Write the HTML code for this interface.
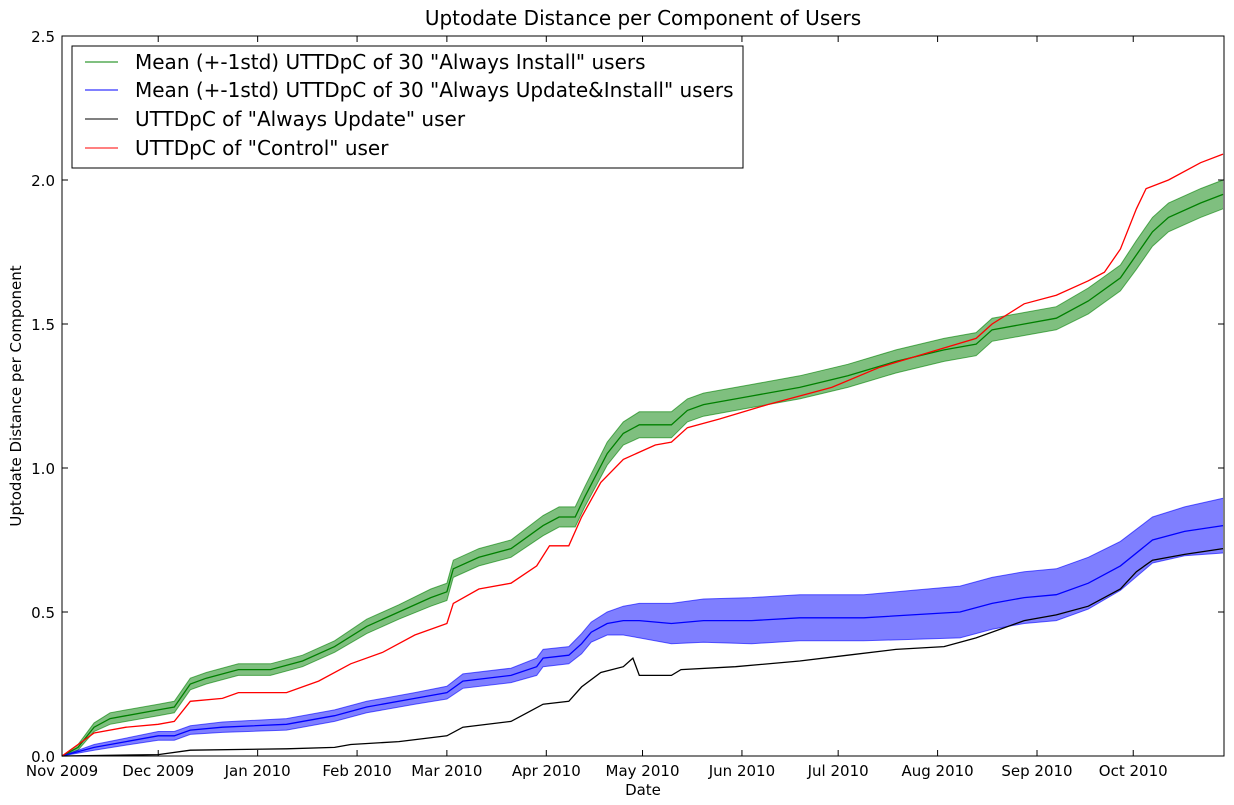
<!DOCTYPE html>
<html><head><meta charset="utf-8"><style>
body{margin:0;background:#fff;}
svg{display:block;font-family:"DejaVu Sans","Liberation Sans",sans-serif;}
</style></head><body>
<svg id="chart" width="1234" height="805">
<text x="643" y="25" text-anchor="middle" font-size="20">Uptodate Distance per Component of Users</text>
<text x="643" y="795" text-anchor="middle" font-size="15">Date</text>
<text transform="translate(21,396) rotate(-90)" text-anchor="middle" font-size="15">Uptodate Distance per Component</text>
<g id="plot"></g>
<rect x="62" y="36" width="1162" height="720" fill="none" stroke="#000" stroke-width="1"/>
<g id="axes"></g>
<g>
<rect x="72" y="46" width="671" height="122" fill="#fff" stroke="#000"/>
<line x1="85" x2="118" y1="62" y2="62" stroke="green"/>
<text x="135" y="69" font-size="20">Mean (+-1std) UTTDpC of 30 "Always Install" users</text>
<line x1="85" x2="118" y1="90" y2="90" stroke="blue"/>
<text x="135" y="97" font-size="20">Mean (+-1std) UTTDpC of 30 "Always Update&amp;Install" users</text>
<line x1="85" x2="118" y1="119" y2="119" stroke="black"/>
<text x="135" y="126" font-size="20">UTTDpC of "Always Update" user</text>
<line x1="85" x2="118" y1="148" y2="148" stroke="red"/>
<text x="135" y="155" font-size="20">UTTDpC of "Control" user</text>
</g>
</svg>
<script>
const greenDays=[0,5,10,15,20,30,35,40,45,55,65,75,85,95,105,115,120,122,130,140,150,155,160,163,170,175,180,190,195,200,215,230,245,260,275,285,290,300,310,320,330,335,340,345,355,362];
const greenMean=[0,0.03,0.1,0.13,0.14,0.16,0.17,0.25,0.27,0.3,0.3,0.33,0.38,0.45,0.5,0.55,0.57,0.65,0.69,0.72,0.8,0.83,0.83,0.9,1.05,1.12,1.15,1.15,1.2,1.22,1.25,1.28,1.32,1.37,1.41,1.43,1.48,1.5,1.52,1.58,1.66,1.74,1.82,1.87,1.92,1.95];
const greenStd=[0,0.01,0.015,0.02,0.02,0.02,0.02,0.02,0.02,0.02,0.02,0.02,0.02,0.025,0.025,0.03,0.03,0.03,0.03,0.03,0.035,0.035,0.035,0.035,0.04,0.04,0.045,0.045,0.04,0.04,0.04,0.04,0.04,0.04,0.04,0.04,0.04,0.04,0.04,0.045,0.045,0.05,0.05,0.05,0.05,0.05];
const blueDays=[0,10,20,30,35,40,50,70,85,95,110,120,125,140,148,150,158,162,165,170,175,180,190,200,215,230,250,265,280,290,300,310,320,330,340,350,362];
const blueMean=[0,0.03,0.05,0.07,0.07,0.09,0.1,0.11,0.14,0.17,0.2,0.22,0.26,0.28,0.31,0.34,0.35,0.39,0.43,0.46,0.47,0.47,0.46,0.47,0.47,0.48,0.48,0.49,0.5,0.53,0.55,0.56,0.6,0.66,0.75,0.78,0.8];
const blueStd=[0,0.01,0.012,0.015,0.015,0.015,0.018,0.02,0.02,0.02,0.02,0.022,0.025,0.025,0.03,0.03,0.03,0.035,0.035,0.04,0.05,0.06,0.07,0.075,0.08,0.08,0.08,0.085,0.09,0.09,0.09,0.09,0.09,0.085,0.08,0.085,0.095];
const blackDays=[0,30,40,70,85,90,105,120,125,140,145,150,158,162,168,175,178,180,190,193,210,230,245,260,275,285,300,310,320,330,335,340,350,362];
const blackVals=[0,0.005,0.02,0.025,0.03,0.04,0.05,0.07,0.1,0.12,0.15,0.18,0.19,0.24,0.29,0.31,0.34,0.28,0.28,0.3,0.31,0.33,0.35,0.37,0.38,0.41,0.47,0.49,0.52,0.58,0.64,0.68,0.7,0.72];
const redDays=[0,10,20,30,35,40,50,55,70,75,80,90,100,110,120,122,130,140,148,152,158,162,168,175,185,190,195,205,220,240,255,270,285,290,300,310,320,325,330,335,338,345,355,362];
const redVals=[0,0.08,0.1,0.11,0.12,0.19,0.2,0.22,0.22,0.24,0.26,0.32,0.36,0.42,0.46,0.53,0.58,0.6,0.66,0.73,0.73,0.83,0.95,1.03,1.08,1.09,1.14,1.17,1.22,1.28,1.35,1.40,1.45,1.5,1.57,1.6,1.65,1.68,1.76,1.9,1.97,2.0,2.06,2.09];
const xTickDays=[0,30,61,92,120,151,181,212,242,273,304,334];
const xTickLabels=["Nov 2009","Dec 2009","Jan 2010","Feb 2010","Mar 2010","Apr 2010","May 2010","Jun 2010","Jul 2010","Aug 2010","Sep 2010","Oct 2010"];
const yTicks=[0,0.5,1,1.5,2,2.5];
const yTickLabels=["0.0","0.5","1.0","1.5","2.0","2.5"];

const X0=62,X1=1224,Y0=756,Y1=36,DMAX=362.3;
const xs=d=>X0+(X1-X0)*d/DMAX;
const ys=v=>Y0-(Y0-Y1)*v/2.5;
const NS="http://www.w3.org/2000/svg";
const plot=document.getElementById('plot'),axes=document.getElementById('axes');
function mk(tag,attrs,parent){const e=document.createElementNS(NS,tag);for(const k in attrs)e.setAttribute(k,attrs[k]);parent.appendChild(e);return e;}
function line(days,vals){return days.map((d,i)=>(i?'L':'M')+xs(d).toFixed(1)+','+ys(vals[i]).toFixed(1)).join('');}
function band(days,mean,std,fill,name){
  const up=mean.map((m,i)=>m+std[i]),lo=mean.map((m,i)=>Math.max(0,m-std[i]));
  let d=line(days,up);
  for(let i=days.length-1;i>=0;i--)d+='L'+xs(days[i]).toFixed(1)+','+ys(lo[i]).toFixed(1);
  const p=mk('path',{d:d+'Z',fill:fill,'fill-opacity':0.5,stroke:'none'},plot);
  
  
  const a=mk('path',{d:line(days,up),fill:'none',stroke:fill,'stroke-opacity':0.6},plot);
  
  
  const b=mk('path',{d:line(days,lo),fill:'none',stroke:fill,'stroke-opacity':0.6},plot);
  
  
}
band(greenDays,greenMean,greenStd,'green','always-install');
band(blueDays,blueMean,blueStd,'blue','always-update-install');
[[greenDays,greenMean,'green','always-install-mean'],[blueDays,blueMean,'blue','always-update-install-mean'],[blackDays,blackVals,'black','always-update-line'],[redDays,redVals,'red','control-line']].forEach(s=>{
  const p=mk('path',{d:line(s[0],s[1]),fill:'none',stroke:s[2],'stroke-width':1.3},plot);
  
  
});
xTickDays.forEach((d,i)=>{
  const x=xs(d);
  mk('line',{x1:x,x2:x,y1:Y0,y2:Y0-6,stroke:'#000'},axes);
  mk('line',{x1:x,x2:x,y1:Y1,y2:Y1+6,stroke:'#000'},axes);
  const t=mk('text',{x:x,y:776,'text-anchor':'middle','font-size':15},axes);
  t.textContent=xTickLabels[i];
  
  
});
yTicks.forEach((v,i)=>{
  const y=ys(v);
  mk('line',{x1:X0,x2:X0+6,y1:y,y2:y,stroke:'#000'},axes);
  mk('line',{x1:X1,x2:X1-6,y1:y,y2:y,stroke:'#000'},axes);
  const t=mk('text',{x:55,y:y+6,'text-anchor':'end','font-size':15},axes);
  t.textContent=yTickLabels[i];
  
  
});
</script>
</body></html>
